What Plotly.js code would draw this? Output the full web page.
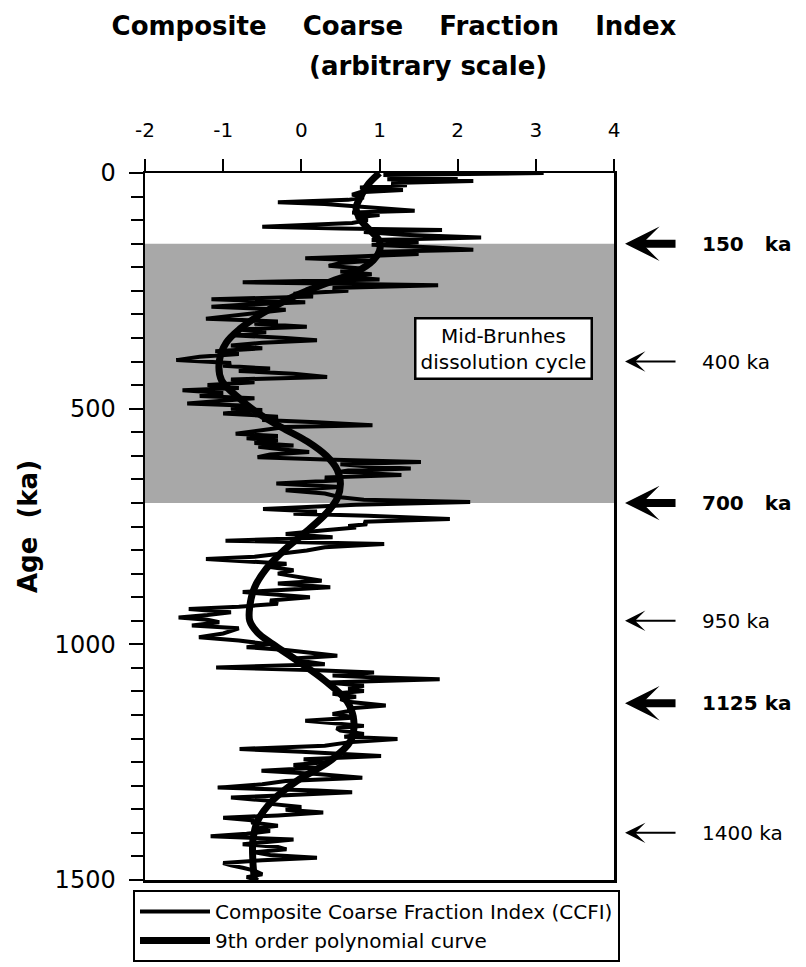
<!DOCTYPE html>
<html>
<head>
<meta charset="utf-8">
<script src="https://cdn.plot.ly/plotly-3.0.1.min.js"></script>
<style>html,body{margin:0;padding:0;background:#fff;}#chart{width:806px;height:967px;}</style>
</head>
<body>
<div id="chart"></div>
<script>
// ---- data ----
var ccfiAge = [0,4,9,13,17,21,26,31,36,41,46,52,57,62,66,70,76,80,84,89,94,100,106,114,118,121,125,131,137,142,147,152,158,163,167,172,177,181,186,191,197,203,209,215,221,226,232,238,244,250,256,262,268,274,279,284,290,296,302,309,315,320,326,332,338,344,350,355,360,366,372,378,384,390,397,403,409,415,420,426,433,438,444,450,456,461,467,473,478,484,489,494,500,
503,510,517,524,529,535,539,545,553,558,563,567,573,578,581,587,592,597,603,608,613,618,623,627,631,634,638,641,646,652,659,666,670,673,680,688,693,698,704,713,718,723,727,734,740,745,749,752,758,766,773,780,787,794,801,808,814,819,825,829,836,843,850,857,865,871,879,884,889,895,900,907,914,920,925,932,938,943,948,953,960,966,971,977,985,992,1000,1006,
1012,1018,1024,1030,1035,1042,1049,1055,1060,1066,1070,1074,1078,1081,1088,1094,1099,1105,1111,1116,1122,1130,1136,1141,1148,1155,1162,1168,1173,1178,1183,1190,1196,1201,1208,1215,1222,1228,1233,1237,1244,1250,1256,1262,1268,1275,1283,1290,1297,1304,1310,1314,1320,1325,1332,1339,1345,1351,1357,1363,1368,1374,1378,1385,1391,1396,1402,1407,1414,1420,1424,1430,1435,1441,1447,1453,1458,1464,1469,1474,1480,1488,1494,1500];
var ccfiValue = [3.1,1.05,2.0,1.1,2.2,1.15,1.35,0.75,1.3,0.75,0.65,0.8,0.6,-0.3,0.3,0.65,1.0,1.45,0.65,1.0,0.7,0.85,0.65,-0.5,0.5,1.8,0.8,1.3,2.3,0.9,1.5,0.9,1.7,2.2,1.0,1.5,0.7,0.05,0.9,0.5,0.35,0.8,0.5,0.9,0.6,1.0,-0.75,1.75,0.4,0.6,-0.1,0.15,-1.15,0.05,-0.7,-1.15,-0.2,-0.5,-0.9,-1.22,-0.3,-0.6,0.07,-0.8,-0.45,-0.9,-0.2,0.2,-0.5,-0.9,-0.5,-1.1,-0.8,-1.3,-1.6,-0.9,-1.0,-0.4,-0.8,-0.1,0.33,-0.9,-0.6,-1.2,-0.8,-1.52,-1.0,-1.3,-0.6,-1.1,-1.46,-0.66,-0.9,
-0.5,-1.0,-0.3,-0.5,0.2,0.91,-0.2,-0.5,-0.84,-0.3,-0.7,-0.3,-0.6,-0.1,-0.55,-0.2,0.1,-0.4,-0.56,0.3,1.53,0.5,0.9,1.4,0.6,0.5,1.0,1.28,0.3,0.5,-0.32,0.5,0.1,-0.2,0.3,0.5,0.8,2.16,0.7,-0.49,0.2,-0.1,0.85,1.9,0.8,0.84,0.6,0.7,0.3,-0.2,0.4,-0.97,1.06,0.3,0.07,-0.3,-0.6,-1.22,-0.5,-0.19,-0.4,-0.1,-0.3,0.0,0.26,-0.3,0.37,-0.2,-0.75,-0.3,0.11,-0.4,-0.3,-0.8,-1.44,-0.9,-1.2,-1.57,-1.2,-1.05,-1.4,-0.8,-0.9,-1.0,-1.31,-0.8,-0.4,-0.7,
-0.2,0.1,0.46,-0.1,-0.02,0.3,-1.09,0.2,0.93,0.4,0.9,1.77,1.0,0.33,0.8,0.6,0.8,0.4,0.7,0.5,0.6,1.08,0.6,0.63,0.4,0.7,0.05,0.5,0.8,0.45,0.5,0.8,0.55,1.23,0.6,0.3,-0.79,0.0,0.5,1.02,0.03,0.3,-0.1,0.2,-0.51,0.2,0.78,-0.2,-0.5,-1.07,0.2,0.65,-0.2,-0.9,-0.4,-0.36,0.0,-0.2,0.28,-0.3,-1.0,-0.6,-0.64,-0.3,-0.6,-0.4,-0.7,-1.16,-0.1,-0.5,-0.75,-0.3,-0.19,-0.6,-0.4,0.2,-0.5,-1.0,-0.9,-0.75,-0.6,-0.5,-0.7,-0.55];

var polyAge = [0,25,50,75,100,125,145,165,185,210,230,250,270,300,330,360,400,440,480,510,540,570,600,630,660,690,720,760,800,840,880,920,950,975,1000,1035,1077,1120,1160,1205,1247,1290,1330,1375,1417,1460,1500];
var polyValue = [1.0,0.85,0.76,0.7,0.76,0.9,1.0,1.0,0.92,0.7,0.38,0.07,-0.2,-0.52,-0.78,-0.96,-1.05,-1.02,-0.78,-0.55,-0.25,0.08,0.32,0.46,0.5,0.46,0.33,0.07,-0.22,-0.45,-0.6,-0.66,-0.66,-0.56,-0.36,-0.05,0.3,0.58,0.67,0.63,0.37,-0.06,-0.36,-0.56,-0.62,-0.62,-0.6];

var xTickVals = [-2,-1,0,1,2,3,4];
var xTickText = ["-2","-1","0","1","2","3","4"];
var yTickVals = [0,500,1000,1500];

var shadeRange = [150,700];
var eventAges = [150,400,700,950,1125,1400];
var eventLabels = ["150\u00a0\u00a0\u00a0ka","400 ka","700\u00a0\u00a0\u00a0ka","950 ka","1125\u00a0ka","1400 ka"];
var eventMajor = [true,false,true,false,true,false];

var seriesNames = ["Composite Coarse Fraction Index (CCFI)","9th order polynomial curve"];

// ---- traces ----
var traces = [
  {x: ccfiValue, y: ccfiAge, type: 'scatter', mode: 'lines', name: seriesNames[0],
   line: {color: '#000', width: 4}},
  {x: polyValue, y: polyAge, type: 'scatter', mode: 'lines', name: seriesNames[1],
   line: {color: '#000', width: 7, shape: 'spline', smoothing: 1}}
];

var annotations = [
  {xref: 'paper', yref: 'paper', x: 0.6034, y: 1.1513, xanchor: 'center', yanchor: 'middle',
   text: '<b>(arbitrary scale)</b>', showarrow: false, font: {size: 26}},
  {xref: 'x', yref: 'y', x: 2.58, y: 372, xanchor: 'center', yanchor: 'middle',
   text: 'Mid-Brunhes<br>dissolution cycle', showarrow: false, font: {size: 20},
   bgcolor: '#fff', bordercolor: '#000', borderwidth: 2.5, borderpad: 4}
];
eventAges.forEach(function (a, i) {
  var major = eventMajor[i];
  annotations.push({xref: 'paper', yref: 'y', x: 1.0235, y: a, text: ' ', showarrow: true,
    axref: 'pixel', ayref: 'pixel', ax: 54, ay: 0, arrowhead: 3,
    arrowwidth: major ? 8 : 2, arrowsize: major ? 0.72 : 1.7, arrowcolor: '#000', standoff: 0});
  annotations.push({xref: 'paper', yref: 'y', x: 1.1834, y: a, xanchor: 'left', yanchor: 'middle',
    text: major ? '<b>' + eventLabels[i] + '</b>' : eventLabels[i], showarrow: false,
    font: {size: 20}});
});

var layout = {
  width: 806, height: 967,
  margin: {l: 145, r: 192, t: 173, b: 87, autoexpand: false},
  paper_bgcolor: '#fff', plot_bgcolor: '#fff',
  font: {family: 'DejaVu Sans', color: '#000'},
  title: {text: '<b>Composite\u00a0\u00a0\u00a0\u00a0Coarse\u00a0\u00a0\u00a0\u00a0Fraction\u00a0\u00a0\u00a0\u00a0Index</b>',
          font: {size: 26}, x: 0.4888, xanchor: 'center', y: 0.973, yanchor: 'middle'},
  xaxis: {side: 'top', range: [-2, 4], tickvals: xTickVals, ticktext: xTickText,
          ticks: 'outside', ticklen: 12, tickwidth: 2, tickcolor: '#000', tickfont: {size: 20},
          ticklabelstandoff: 14, showline: true, mirror: true, linewidth: 2.5, linecolor: '#000',
          showgrid: false, zeroline: false, fixedrange: true},
  yaxis: {range: [1500, 0], tickvals: yTickVals, ticks: 'outside', ticklen: 14, tickwidth: 2,
          tickcolor: '#000', tickfont: {size: 24}, ticklabelstandoff: 8,
          minor: {dtick: 50, tick0: 0, ticks: 'outside', ticklen: 12, tickwidth: 2, tickcolor: '#000', showgrid: false},
          showline: true, mirror: true, linewidth: 2.5, linecolor: '#000',
          showgrid: false, zeroline: false, fixedrange: true,
          title: {text: '<b>Age\u00a0\u00a0(ka)</b>', font: {size: 26}, standoff: 10}},
  shapes: [{type: 'rect', xref: 'paper', yref: 'y', x0: 0, x1: 1, y0: shadeRange[0], y1: shadeRange[1],
            fillcolor: '#a8a8a8', line: {width: 0}, layer: 'below'}],
  annotations: annotations,
  showlegend: true,
  legend: {x: -0.0256, y: -0.0141, xanchor: 'left', yanchor: 'top', bgcolor: '#fff',
           bordercolor: '#000', borderwidth: 2, font: {size: 20}, itemwidth: 70, traceorder: 'normal'}
};

Plotly.newPlot('chart', traces, layout, {displayModeBar: false, staticPlot: true});
</script>
</body>
</html>
